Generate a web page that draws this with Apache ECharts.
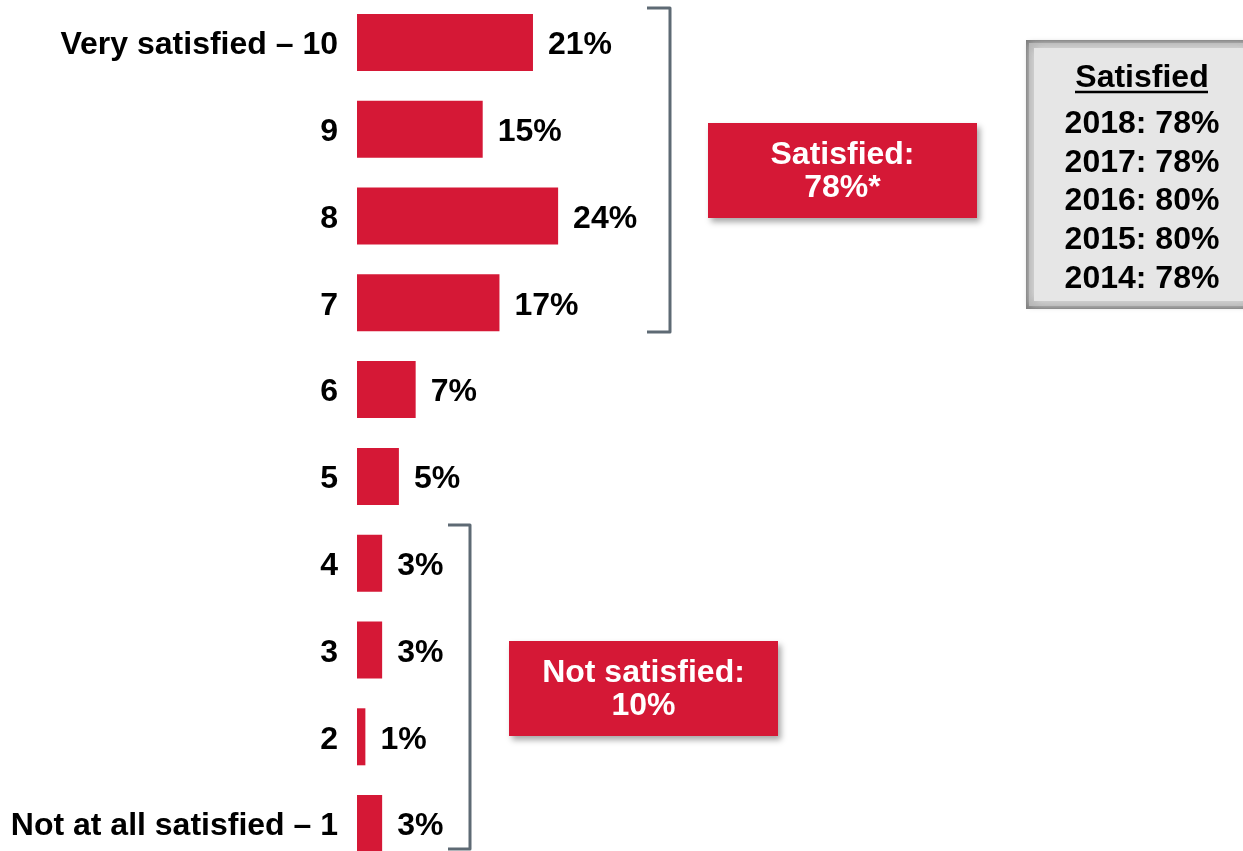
<!DOCTYPE html>
<html>
<head>
<meta charset="utf-8">
<script src="https://cdn.jsdelivr.net/npm/echarts@6/dist/echarts.min.js"></script>
<style>
html,body{margin:0;padding:0;background:#fff;}
#chart{width:1243px;height:851px;}
</style>
</head>
<body>
<div id="chart"></div>
<script>
const categories = ['Very satisfied – 10', '9', '8', '7', '6', '5', '4', '3', '2', 'Not at all satisfied – 1'];
const values = [21, 15, 24, 17, 7, 5, 3, 3, 1, 3];
const satisfiedBox = ['Satisfied:', '78%*'];
const notSatisfiedBox = ['Not satisfied:', '10%'];
const historyTitle = 'Satisfied';
const historyYears = ['2018', '2017', '2016', '2015', '2014'];
const historyValues = [78, 78, 80, 80, 78];

const FONT = '"Liberation Sans", Arial, sans-serif';
const RED = '#D51836';
const BRACKET = '#5E6A74';
const FS = 32;

const chart = echarts.init(document.getElementById('chart'), null, {renderer: 'canvas'});

function redBox(x, y, w, h, lines, lineYs) {
  const els = [{
    type: 'rect',
    shape: {x: x, y: y, width: w, height: h},
    style: {fill: RED, shadowBlur: 6, shadowOffsetX: 3, shadowOffsetY: 4, shadowColor: 'rgba(0,0,0,0.35)'}
  }];
  lines.forEach((t, i) => {
    els.push({
      type: 'text',
      x: x + w / 2, y: lineYs[i],
      style: {text: t, fill: '#fff', font: 'bold ' + FS + 'px ' + FONT, align: 'center', verticalAlign: 'middle'}
    });
  });
  return els;
}

function bracket(xh, xv, y1, y2) {
  return {
    type: 'polyline',
    shape: {points: [[xh, y1], [xv, y1], [xv, y2], [xh, y2]]},
    style: {stroke: BRACKET, lineWidth: 3, fill: null, lineJoin: 'round'}
  };
}

const graphics = [];
graphics.push(bracket(647, 670, 8, 332));
graphics.push(bracket(448, 470, 525, 849));
graphics.push(...redBox(708, 123, 269, 95, satisfiedBox, [155, 188]));
graphics.push(...redBox(509, 641, 269, 95, notSatisfiedBox, [673, 706]));

// gray history box
graphics.push({type: 'rect', shape: {x: 1026, y: 40, width: 230, height: 269}, style: {fill: '#7c7c7c'}});
graphics.push({type: 'rect', shape: {x: 1029, y: 43, width: 224, height: 263},
  style: {fill: '#b5b5b5', shadowBlur: 6, shadowColor: '#b5b5b5'}});
graphics.push({type: 'rect', shape: {x: 1034, y: 48, width: 214, height: 253},
  style: {fill: '#e6e6e6', shadowBlur: 10, shadowColor: '#e6e6e6'}});
graphics.push({type: 'text', x: 1142, y: 78,
  style: {text: historyTitle, fill: '#000', font: 'bold ' + FS + 'px ' + FONT, align: 'center', verticalAlign: 'middle'}});
graphics.push({type: 'line', shape: {x1: 1075, y1: 92, x2: 1208, y2: 92}, style: {stroke: '#000', lineWidth: 2.5}});
historyYears.forEach((yr, i) => {
  graphics.push({type: 'text', x: 1142, y: 124 + i * 38.8,
    style: {text: yr + ': ' + historyValues[i] + '%', fill: '#000', font: 'bold ' + FS + 'px ' + FONT, align: 'center', verticalAlign: 'middle'}});
});

chart.setOption({
  animation: false,
  backgroundColor: '#fff',
  grid: {left: 357, width: 838, top: -1, height: 868, containLabel: false, outerBoundsMode: 'none'},
  xAxis: {type: 'value', min: 0, max: 100, show: false},
  yAxis: {
    type: 'category', data: categories, inverse: true,
    axisLine: {show: false}, axisTick: {show: false}, splitLine: {show: false},
    axisLabel: {
      margin: 19,
      formatter: v => '{a|' + v + '}',
      rich: {a: {color: '#000', fontFamily: FONT, fontWeight: 'bold', fontSize: FS, padding: [6, 0, 0, 0]}}
    }
  },
  series: [{
    type: 'bar', data: values, barWidth: 57,
    itemStyle: {color: RED},
    label: {show: true, position: 'right', distance: 15, offset: [0, 3], formatter: '{c}%',
      color: '#000', fontFamily: FONT, fontWeight: 'bold', fontSize: FS}
  }],
  graphic: graphics
});
</script>
</body>
</html>
